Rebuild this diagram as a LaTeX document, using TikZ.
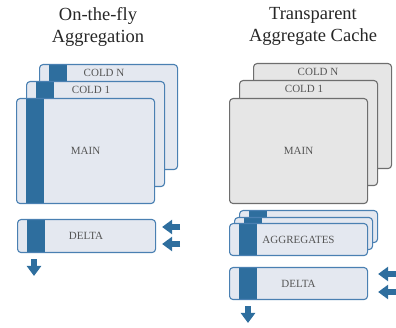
\documentclass[tikz,border=0pt]{standalone}
\usepackage{fontspec}
\setmainfont{Liberation Serif}
\usetikzlibrary{arrows.meta}
\definecolor{barblue}{HTML}{2E6E9E}
\definecolor{edgeblue}{HTML}{4A80B2}
\definecolor{fillblue}{HTML}{E4E8F0}
\definecolor{edgegray}{HTML}{6E6E6E}
\definecolor{fillgray}{HTML}{E6E6E6}
\definecolor{tagtext}{HTML}{555555}
\begin{document}
\begin{tikzpicture}[x=1pt,y=-1pt,
	plain/.style={line width=1.1pt,rounded corners=3.5pt,anchor=north west,minimum width=138pt,minimum height=105pt,inner sep=0pt},
	store/.style={plain,draw=edgeblue,fill=fillblue,
		path picture={\fill[barblue,sharp corners] ([xshift=9pt]path picture bounding box.north west) rectangle ([xshift=27pt]path picture bounding box.south west);}},
	cache/.style={plain,draw=edgegray,fill=fillgray},
	tag/.style={text=tagtext,font=\fontsize{11}{13}\selectfont,inner sep=0pt},
	title/.style={font=\fontsize{18.5}{22}\selectfont,align=center,text=black!85,inner sep=0pt},
	feed/.style={draw=barblue,line width=5.5pt,-{Triangle[length=10pt,width=14pt]}}]
		\useasboundingbox (0,0) rectangle (396,328);

		% on-the-fly aggregation
		\node[title] (titleA) at (98,26.5) {On-the-fly\\Aggregation};
		\node[store] (colnA) at (39,64) {};
		\node[store] (col1A) at (26,81) {};
		\node[store] (mainA) at (16,98) {};
		\node[store,minimum height=33pt] (deltaA) at (17,219) {};
		\node[tag] (tcolnA) at ([xshift=-4.5pt,yshift=-8.5pt]colnA.north) {COLD N};
		\node[tag] (tcol1A) at ([xshift=-4.5pt,yshift=-8.5pt]col1A.north) {COLD 1};
		\node[tag] (tmainA) at (mainA.center) {MAIN};
		\node[tag] (tdeltaA) at ([xshift=-0.5pt]deltaA.center) {DELTA};
		\coordinate (inA) at (180,227);
		\coordinate (inB) at (180,244);
		\coordinate (outA) at (34,276);
		\draw[feed,shorten >=6pt] (inA) -- (deltaA.east |- inA);
		\draw[feed,shorten >=6pt] (inB) -- (deltaA.east |- inB);
		\draw[feed,shorten <=6pt] (deltaA.south -| outA) -- (outA);

		% transparent aggregate cache
		\node[title] (titleB) at (313,26.5) {Transparent\\Aggregate Cache};
		\node[cache] (colnB) at (253,63) {};
		\node[cache] (col1B) at (239,80) {};
		\node[cache] (mainB) at (229,98) {};
		\node[store,minimum height=32pt] (aggC) at (239,210) {};
		\node[store,minimum height=32pt] (aggB) at (234,217) {};
		\node[store,minimum height=32pt] (aggA) at (229,223) {};
		\node[store,minimum height=32pt] (deltaB) at (229,267) {};
		\node[tag] (tcolnB) at ([xshift=-4.5pt,yshift=-8.5pt]colnB.north) {COLD N};
		\node[tag] (tcol1B) at ([xshift=-4.5pt,yshift=-8.5pt]col1B.north) {COLD 1};
		\node[tag] (tmainB) at (mainB.center) {MAIN};
		\node[tag] (taggA) at (aggA.center) {AGGREGATES};
		\node[tag] (tdeltaB) at (deltaB.center) {DELTA};
		\coordinate (inC) at (396,274);
		\coordinate (inD) at (396,292);
		\coordinate (outB) at (248,323);
		\draw[feed,shorten >=10pt] (inC) -- (deltaB.east |- inC);
		\draw[feed,shorten >=10pt] (inD) -- (deltaB.east |- inD);
		\draw[feed,shorten <=6pt] (deltaB.south -| outB) -- (outB);
\end{tikzpicture}
\end{document}
